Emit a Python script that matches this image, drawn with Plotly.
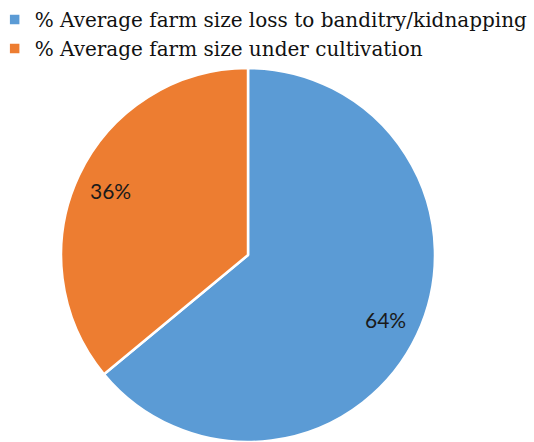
import math
import plotly.graph_objects as go

labels = ["% Average farm size loss to banditry/kidnapping", "% Average farm size under cultivation"]
values = [64, 36]
colors = ["#5B9BD5", "#ED7D31"]

W, H = 534, 442
dom_x = [0.1124, 0.8165]
dom_y = [0.0, 0.846]

fig = go.Figure(go.Pie(
    labels=labels,
    values=values,
    sort=False,
    direction="clockwise",
    rotation=0,
    marker=dict(colors=colors, line=dict(color="white", width=2.5)),
    textinfo="none",
    domain=dict(x=dom_x, y=dom_y),
    hoverinfo="label+percent",
))

# data labels placed at ~0.81 of the radius along each slice's mid angle
rad_px = min((dom_x[1] - dom_x[0]) * W, (dom_y[1] - dom_y[0]) * H) / 2
cx = (dom_x[0] + dom_x[1]) / 2
cy = (dom_y[0] + dom_y[1]) / 2
total = sum(values)
cum = 0
for v in values:
    mid = (cum + v / 2) / total * 2 * math.pi
    cum += v
    r = 0.81 * rad_px
    ax = cx + r * math.sin(mid) / W
    ay = cy + r * math.cos(mid) / H
    fig.add_annotation(
        x=ax, y=ay, xref="paper", yref="paper",
        xanchor="center", yanchor="middle",
        text=f"{round(v / total * 100)}%", showarrow=False,
        font=dict(family="Lato", size=21, color="#1a1a1a"),
    )

fig.update_layout(
    width=W, height=H,
    margin=dict(l=0, r=0, t=0, b=0, autoexpand=False),
    paper_bgcolor="white",
    plot_bgcolor="white",
    showlegend=True,
    legend=dict(
        x=-0.01, y=1.0, xanchor="left", yanchor="top",
        font=dict(family="DejaVu Serif", size=20, color="#111111"),
        itemwidth=30, tracegroupgap=0,
        bgcolor="rgba(0,0,0,0)",
    ),
)

fig.write_html("out.html")
